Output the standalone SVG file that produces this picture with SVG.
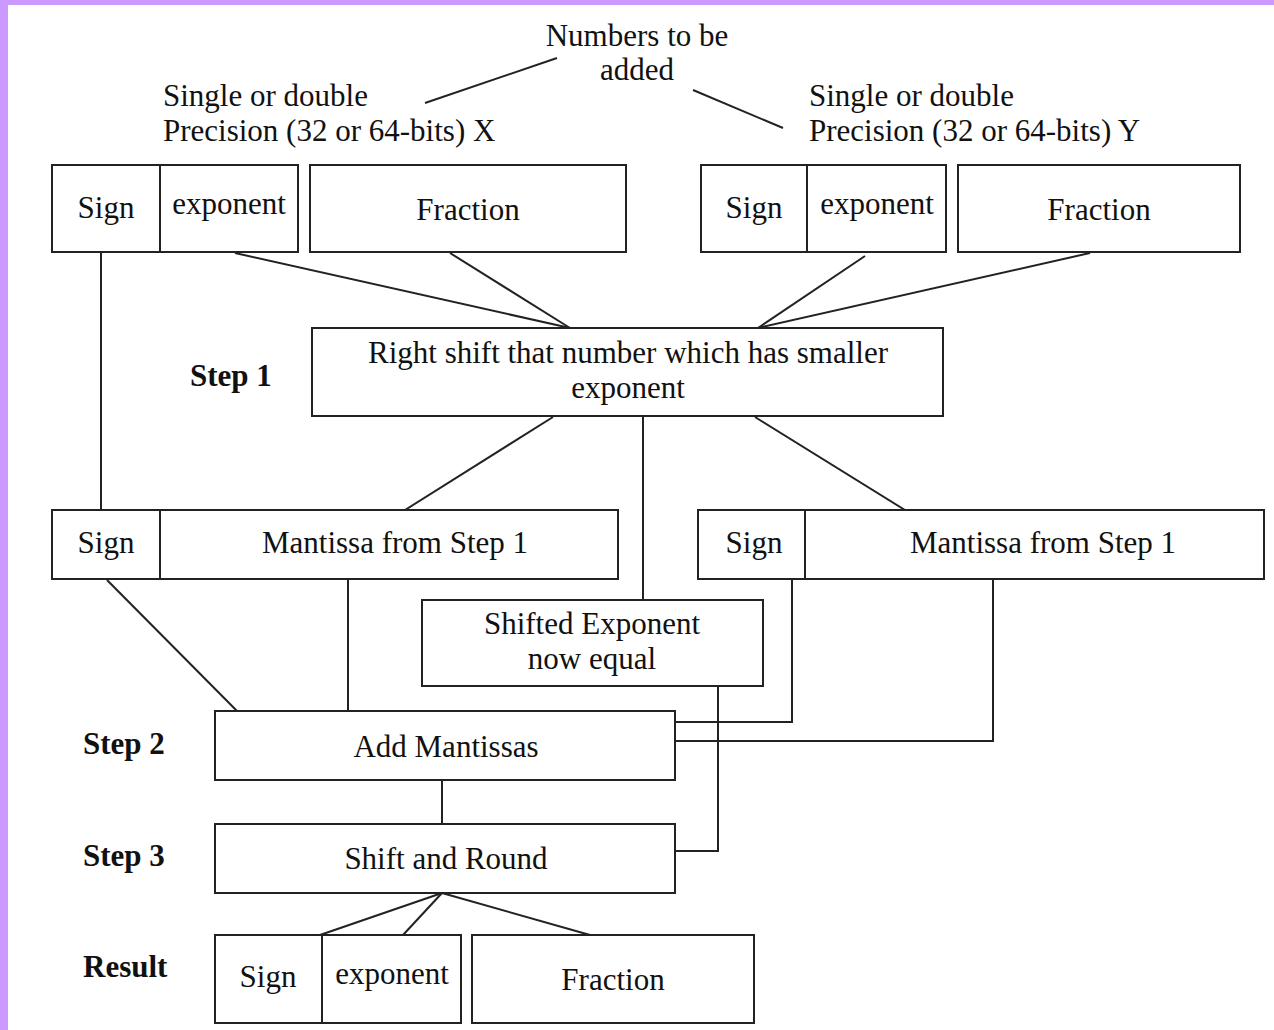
<svg xmlns="http://www.w3.org/2000/svg" width="1274" height="1030" viewBox="0 0 1274 1030">
<style>
  .box { fill: #fff; stroke: #222; stroke-width: 2; }
  .ln { stroke: #222; stroke-width: 2; fill: none; }
  text { font-family: "Liberation Serif", "Times New Roman", serif; font-size: 31px; fill: #111; }
  .c { text-anchor: middle; }
  .b { font-weight: bold; }
</style>
<rect x="0" y="0" width="1274" height="1030" fill="#fff"/>
<rect x="0" y="0" width="1274" height="5" fill="#cc99ff"/>
<rect x="0" y="0" width="8" height="1030" fill="#cc99ff"/>

<g id="labels">
  <text class="c" x="637" y="46">Numbers to be</text>
  <text class="c" x="637" y="80">added</text>
  <text x="163" y="106">Single or double</text>
  <text x="163" y="141">Precision (32 or 64-bits) X</text>
  <text x="809" y="106">Single or double</text>
  <text x="809" y="141">Precision (32 or 64-bits) Y</text>
  <text class="b" x="190" y="386">Step 1</text>
  <text class="b" x="83" y="754">Step 2</text>
  <text class="b" x="83" y="866">Step 3</text>
  <text class="b" x="83" y="977">Result</text>
</g>

<g id="connectors">
  <line class="ln" x1="425" y1="103" x2="557" y2="58"/>
  <line class="ln" x1="693" y1="90" x2="783" y2="128"/>
  <line class="ln" x1="235" y1="253" x2="570" y2="328"/>
  <line class="ln" x1="450" y1="253" x2="570" y2="328"/>
  <line class="ln" x1="865" y1="256" x2="758" y2="328"/>
  <line class="ln" x1="1090" y1="253" x2="758" y2="328"/>
  <line class="ln" x1="101" y1="253" x2="101" y2="510"/>
  <line class="ln" x1="553" y1="417" x2="405" y2="510"/>
  <line class="ln" x1="643" y1="417" x2="643" y2="600"/>
  <line class="ln" x1="755" y1="417" x2="905" y2="510"/>
  <line class="ln" x1="107" y1="580" x2="237" y2="711"/>
  <line class="ln" x1="348" y1="580" x2="348" y2="711"/>
  <polyline class="ln" points="792,580 792,722 675,722"/>
  <polyline class="ln" points="993,580 993,741 675,741"/>
  <polyline class="ln" points="718,686 718,851 675,851"/>
  <line class="ln" x1="442" y1="780" x2="442" y2="824"/>
  <line class="ln" x1="442" y1="893" x2="320" y2="935"/>
  <line class="ln" x1="442" y1="893" x2="403" y2="935"/>
  <line class="ln" x1="442" y1="893" x2="590" y2="935"/>
</g>

<g id="x-sign-exponent">
  <rect class="box" x="52" y="165" width="246" height="87"/>
  <line class="ln" x1="160" y1="165" x2="160" y2="252"/>
  <text class="c" x="106" y="218">Sign</text>
  <text class="c" x="229" y="214">exponent</text>
</g>
<g id="x-fraction">
  <rect class="box" x="310" y="165" width="316" height="87"/>
  <text class="c" x="468" y="220">Fraction</text>
</g>
<g id="y-sign-exponent">
  <rect class="box" x="701" y="165" width="245" height="87"/>
  <line class="ln" x1="807" y1="165" x2="807" y2="252"/>
  <text class="c" x="754" y="218">Sign</text>
  <text class="c" x="877" y="214">exponent</text>
</g>
<g id="y-fraction">
  <rect class="box" x="958" y="165" width="282" height="87"/>
  <text class="c" x="1099" y="220">Fraction</text>
</g>
<g id="step1">
  <rect class="box" x="312" y="328" width="631" height="88"/>
  <text class="c" x="628" y="363">Right shift that number which has smaller</text>
  <text class="c" x="628" y="398">exponent</text>
</g>
<g id="left-mantissa">
  <rect class="box" x="52" y="510" width="566" height="69"/>
  <line class="ln" x1="160" y1="510" x2="160" y2="579"/>
  <text class="c" x="106" y="553">Sign</text>
  <text class="c" x="395" y="553">Mantissa from Step 1</text>
</g>
<g id="right-mantissa">
  <rect class="box" x="698" y="510" width="566" height="69"/>
  <line class="ln" x1="805" y1="510" x2="805" y2="579"/>
  <text class="c" x="754" y="553">Sign</text>
  <text class="c" x="1043" y="553">Mantissa from Step 1</text>
</g>
<g id="shifted-exponent">
  <rect class="box" x="422" y="600" width="341" height="86"/>
  <text class="c" x="592" y="634">Shifted Exponent</text>
  <text class="c" x="592" y="669">now equal</text>
</g>
<g id="add-mantissas">
  <rect class="box" x="215" y="711" width="460" height="69"/>
  <text class="c" x="446" y="757">Add Mantissas</text>
</g>
<g id="shift-round">
  <rect class="box" x="215" y="824" width="460" height="69"/>
  <text class="c" x="446" y="869">Shift and Round</text>
</g>
<g id="result-sign-exponent">
  <rect class="box" x="215" y="935" width="246" height="88"/>
  <line class="ln" x1="322" y1="935" x2="322" y2="1023"/>
  <text class="c" x="268" y="987">Sign</text>
  <text class="c" x="392" y="984">exponent</text>
</g>
<g id="result-fraction">
  <rect class="box" x="472" y="935" width="282" height="88"/>
  <text class="c" x="613" y="990">Fraction</text>
</g>
</svg>
